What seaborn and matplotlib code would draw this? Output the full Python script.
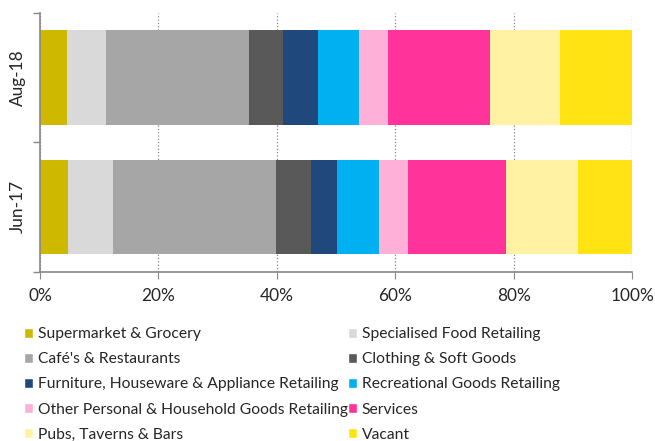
import numpy as np
import pandas as pd
import seaborn as sns
import matplotlib.pyplot as plt
from matplotlib.patches import Patch
from matplotlib.ticker import FixedLocator

# data (percent of floor space)
periods = ['Aug-18', 'Jun-17']
categories = ['Supermarket & Grocery', 'Specialised Food Retailing',
              "Café's & Restaurants", 'Clothing & Soft Goods',
              'Furniture, Houseware & Appliance Retailing', 'Recreational Goods Retailing',
              'Other Personal & Household Goods Retailing', 'Services',
              'Pubs, Taverns & Bars', 'Vacant']
aug18 = [4.5, 6.6, 24.2, 5.7, 5.9, 7.0, 4.8, 17.3, 11.9, 12.1]
jun17 = [4.7, 7.6, 27.5, 5.9, 4.4, 7.1, 4.9, 16.6, 12.2, 9.1]
colors = ['#CFB800', '#D9D9D9', '#A6A6A6', '#595959', '#1F497D',
          '#00B0F0', '#FFB0D8', '#FF3399', '#FFF3A3', '#FFE312']

sns.set_style('white')
plt.rcParams['font.family'] = ['Lato', 'DejaVu Sans']

d = pd.DataFrame({'Aug-18': aug18, 'Jun-17': jun17}, index = categories)
d = d.div(d.sum(), axis = 1) * 100
cum = d.cumsum()

fig = plt.figure(figsize = (6.55, 4.41), dpi = 100)
ax = fig.add_axes([0.061, 0.384, 0.904, 0.587])

# stacked bars: draw cumulative totals from the back to the front
for i in range(len(categories) - 1, -1, -1):
    row = pd.DataFrame({'period': periods, 'value': cum.iloc[i][periods].values})
    sns.barplot(data = row, x = 'value', y = 'period', orient = 'h',
                color = colors[i], saturation = 1, width = 0.73,
                linewidth = 0, ax = ax)

ax.set_xlim(0, 100)
ax.set_ylim(1.5, -0.5)
ax.set_xticks([0, 20, 40, 60, 80, 100])
ax.set_xticklabels(['0%', '20%', '40%', '60%', '80%', '100%'], fontsize = 12.4)
ax.set_yticks([0, 1])
ax.set_yticklabels(periods, rotation = 90, va = 'center', fontsize = 12.4)
ax.yaxis.set_minor_locator(FixedLocator([-0.5, 0.5, 1.5]))
ax.tick_params(axis = 'y', which = 'major', length = 0, pad = 10)
ax.tick_params(axis = 'y', which = 'minor', length = 5, color = '#888888', width = 1, left = True)
ax.tick_params(axis = 'x', length = 5, color = '#888888', bottom = True, pad = 7)
ax.set_xlabel('')
ax.set_ylabel('')
ax.grid(axis = 'x', linestyle = ':', color = '#888888', linewidth = 0.9)
ax.set_axisbelow(True)
for s in ['top', 'right']:
    ax.spines[s].set_visible(False)
for s in ['left', 'bottom']:
    ax.spines[s].set_color('#888888')
    ax.spines[s].set_linewidth(1.2)

handles = [Patch(facecolor = c, label = l) for c, l in zip(colors, categories)]
# order row-wise across two columns
order = [0, 2, 4, 6, 8, 1, 3, 5, 7, 9]
fig.legend([handles[i] for i in order], [categories[i] for i in order],
           ncol = 2, loc = 'upper left', bbox_to_anchor = (0.036, 0.258),
           frameon = False, fontsize = 11.25, handlelength = 0.6, handleheight = 0.6,
           handletextpad = 0.3, columnspacing = 0.0, labelspacing = 0.71,
           borderaxespad = 0, borderpad = 0)

plt.savefig('out.png', dpi = 100)
